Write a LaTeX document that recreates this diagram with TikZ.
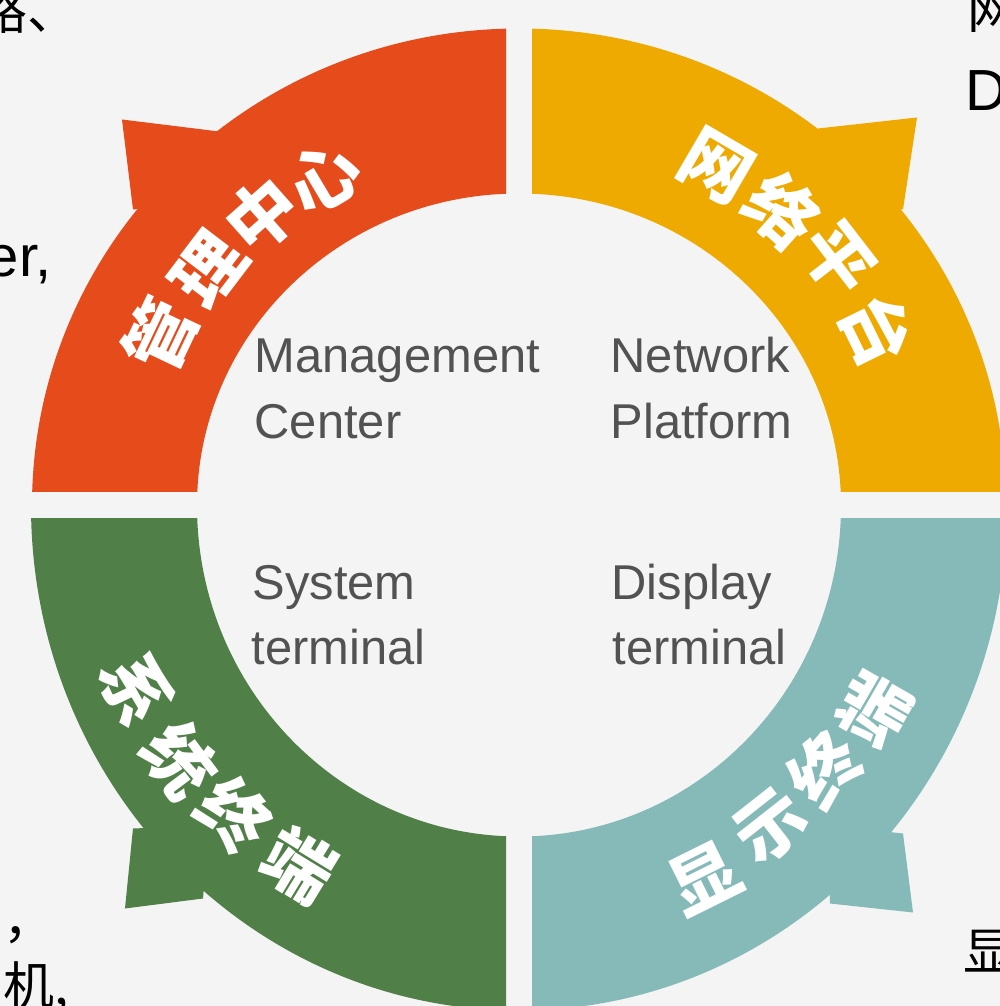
\documentclass[tikz,border=0pt]{standalone}
\usepackage{fontspec}
\setmainfont{Liberation Sans}
\newfontfamily\cjk{Noto Sans CJK SC}
\usetikzlibrary{positioning}
\definecolor{bggray}{HTML}{F4F4F4}
\definecolor{mgmtred}{HTML}{E54B1B}
\definecolor{netorange}{HTML}{EEAA00}
\definecolor{sysgreen}{HTML}{508048}
\definecolor{dispteal}{HTML}{85BAB9}
\definecolor{textgray}{HTML}{525252}

\begin{document}
\begin{tikzpicture}[x=0.01cm,y=0.01cm,
    ringtxt/.style={text=white,inner sep=0pt,font=\cjk\bfseries\fontsize{20}{20}\selectfont},
    entxt/.style={text=textgray,inner sep=0pt,anchor=base west,font=\fontsize{13.9}{16}\selectfont},
    sidetxt/.style={text=black,inner sep=0pt,font=\fontsize{16.5}{18}\selectfont},
    sidecjk/.style={text=black,inner sep=0pt,font=\cjk\fontsize{14.5}{16}\selectfont}]

	\fill[bggray] (-519,-500.5) rectangle (481,505.5);
	\useasboundingbox (-519,-500.5) rectangle (481,505.5);

	% four pieces of the ring
	\begin{scope}
		\clip (-519,13.5) rectangle (-13,505.5);
		\fill[mgmtred,even odd rule] (0,0) ellipse [x radius=487,y radius=477] (0,0) ellipse [x radius=322,y radius=312];
		\fill[mgmtred] (-397,386) -- (-300,374) -- (-304,304) -- (-386,296) -- cycle;
	\end{scope}
	\begin{scope}
		\clip (13,13.5) rectangle (481,505.5);
		\fill[netorange,even odd rule] (0,0) ellipse [x radius=487,y radius=477] (0,0) ellipse [x radius=322,y radius=312];
		\fill[netorange] (398,388) -- (299,377) -- (304,304) -- (384,296) -- cycle;
	\end{scope}
	\begin{scope}
		\clip (-519,-500.5) rectangle (-13,-13.5);
		\fill[sysgreen,even odd rule] (0,0) ellipse [x radius=488,y radius=505] (0,0) ellipse [x radius=322,y radius=331];
		\fill[sysgreen] (-394,-403) -- (-386,-323) -- (-310,-320) -- (-316,-393) -- cycle;
	\end{scope}
	\begin{scope}
		\clip (13,-500.5) rectangle (481,-13.5);
		\fill[dispteal,even odd rule] (0,0) ellipse [x radius=488,y radius=505] (0,0) ellipse [x radius=322,y radius=331];
		\fill[dispteal] (394,-407) -- (384,-328) -- (310,-320) -- (311,-398) -- cycle;
	\end{scope}

	% ring labels
	\node[ringtxt,rotate=64.6] (mc1) at (154.6:397) {管};
	\node[ringtxt,rotate=52.7] (mc2) at (142.7:390) {理};
	\node[ringtxt,rotate=41.5] (mc3) at (131.5:388) {中};
	\node[ringtxt,rotate=30.8] (mc4) at (120.8:382) {心};

	\node[ringtxt,rotate=-30.3] (np1) at (59.7:392) {网};
	\node[ringtxt,rotate=-41.8] (np2) at (48.2:396) {络};
	\node[ringtxt,rotate=-52.3] (np3) at (37.7:402) {平};
	\node[ringtxt,rotate=-63.9] (np4) at (26.1:399) {台};

	\node[ringtxt,rotate=-64.3] (st1) at (205.7:424) {系};
	\node[ringtxt,rotate=-53.1] (st2) at (216.9:424) {统};
	\node[ringtxt,rotate=-42.5] (st3) at (227.5:420) {终};
	\node[ringtxt,rotate=-31.4] (st4) at (238.6:421) {端};

	\node[ringtxt,rotate=26.4] (dt1) at (-63.6:416) {显};
	\node[ringtxt,rotate=38.2] (dt2) at (-51.8:408) {示};
	\node[ringtxt,rotate=49.2] (dt3) at (-40.8:404) {终};
	\node[ringtxt,rotate=60.1] (dt4) at (-29.9:410) {端};

	% english labels inside
	\node[entxt] (mgmt) at (-265,133) {Management};
	\node[entxt] (center) at (-265,67) {Center};
	\node[entxt] (network) at (91,133) {Network};
	\node[entxt] (platform) at (91,67) {Platform};
	\node[entxt] (system) at (-267,-94) {System};
	\node[entxt] (systerm) at (-268,-159) {terminal};
	\node[entxt] (display) at (92,-94) {Display};
	\node[entxt] (disterm) at (93,-159) {terminal};

	% text of the page round the picture
	\node[sidecjk,anchor=east] (frag1) at (-440,495) {路、};
	\node[sidecjk,anchor=west] (frag2) at (448,495) {网};
	\node[sidetxt,anchor=base west] (frag3) at (446,395) {D};
	\node[sidetxt,anchor=base east] (frag4) at (-467,229) {er,};
	\node[sidecjk,anchor=west] (frag5) at (-516,-430) {，};
	\node[sidecjk,anchor=north west] (frag6) at (-516,-455) {机,};
	\node[sidecjk,anchor=west] (frag7) at (444,-446) {显};
\end{tikzpicture}
\end{document}
